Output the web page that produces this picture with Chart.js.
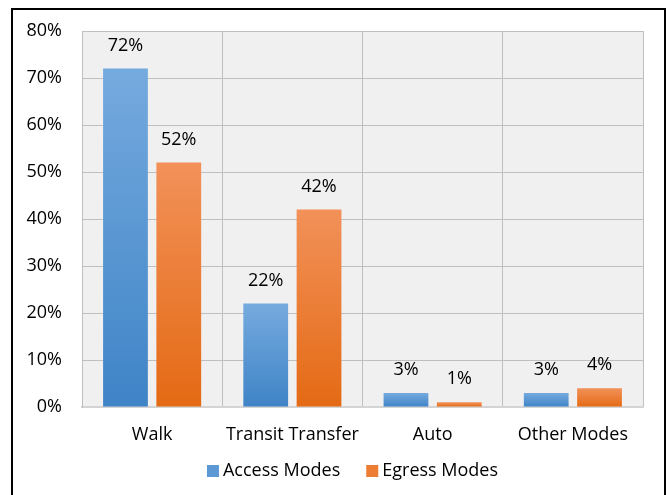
<!DOCTYPE html>
<html>
<head>
<meta charset="utf-8">
<script src="https://cdn.jsdelivr.net/npm/chart.js@4/dist/chart.umd.min.js"></script>
<style>
  html, body { margin: 0; padding: 0; background: #fff; }
  body { width: 671px; height: 495px; position: relative; overflow: hidden; }
  .frame {
    position: absolute; left: 11px; top: 8px;
    width: 651px; height: 500px;
    border: 2px solid #000;
  }
  #modeChart { position: absolute; left: 0; top: 0; }
</style>
</head>
<body>
<div class="frame"></div>
<canvas id="modeChart" width="671" height="495"></canvas>
<script>
const categories = ['Walk', 'Transit Transfer', 'Auto', 'Other Modes'];
const accessModes = [72, 22, 3, 3];
const egressModes = [52, 42, 1, 4];
const yTicks = [0, 10, 20, 30, 40, 50, 60, 70, 80];

const FONT = '"Open Sans", Lato, sans-serif';
const TEXT = '#000';
const SWATCH = ['#5b98d4', '#ec7d32'];

// vertical gradient per bar, lighter at the top
function barGradient(top, bottom) {
    return (ctx) => {
        if (ctx.type !== 'data') return bottom;
        const chart = ctx.chart;
        const y = chart.scales.y;
        if (!y) return bottom;
        const yTop = y.getPixelForValue(ctx.parsed.y);
        const yBase = y.getPixelForValue(0);
        if (!isFinite(yTop) || !isFinite(yBase) || yTop === yBase) return bottom;
        const g = chart.ctx.createLinearGradient(0, yTop, 0, yBase);
        g.addColorStop(0, top);
        g.addColorStop(1, bottom);
        return g;
    };
}

const plotBackground = {
    id: 'plotBackground',
    beforeDraw(chart) {
        const { ctx, chartArea: a } = chart;
        ctx.save();
        ctx.fillStyle = '#f0f0f0';
        ctx.fillRect(a.left, a.top, a.right - a.left, a.bottom - a.top);
        ctx.restore();
    }
};

const valueLabels = {
    id: 'valueLabels',
    afterDatasetsDraw(chart) {
        const { ctx } = chart;
        ctx.save();
        ctx.font = '18px ' + FONT;
        ctx.fillStyle = TEXT;
        ctx.textAlign = 'center';
        ctx.textBaseline = 'middle';
        chart.data.datasets.forEach((ds, i) => {
            chart.getDatasetMeta(i).data.forEach((bar, j) => {
                ctx.fillText(ds.data[j] + '%', bar.x, bar.y - 23);
            });
        });
        ctx.restore();
    }
};

// compact legend under the axis: small square, tight gap to the text
const bottomLegend = {
    id: 'bottomLegend',
    afterDraw(chart) {
        const { ctx, chartArea: a } = chart;
        const box = 12, gap = 4, itemGap = 26;
        ctx.save();
        ctx.font = '18px ' + FONT;
        ctx.textBaseline = 'middle';
        const items = chart.data.datasets.map((ds, i) => ({ text: ds.label, color: SWATCH[i], w: ctx.measureText(ds.label).width }));
        const total = items.reduce((s, it) => s + box + gap + it.w, 0) + itemGap * (items.length - 1);
        let x = (a.left + a.right) / 2 - 10 - total / 2;
        const y = a.bottom + 64;
        items.forEach(it => {
            ctx.fillStyle = it.color;
            ctx.fillRect(x, y - box / 2, box, box);
            ctx.fillStyle = TEXT;
            ctx.fillText(it.text, x + box + gap, y);
            x += box + gap + it.w + itemGap;
        });
        ctx.restore();
    }
};

new Chart(document.getElementById('modeChart'), {
    type: 'bar',
    data: {
        labels: categories,
        datasets: [
            {
                label: 'Access Modes',
                data: accessModes,
                backgroundColor: barGradient('#75aade', '#3f84c7'),
                borderWidth: 0
            },
            {
                label: 'Egress Modes',
                data: egressModes,
                backgroundColor: barGradient('#f29159', '#e46a14'),
                borderWidth: 0
            }
        ]
    },
    options: {
        responsive: false,
        animation: false,
        categoryPercentage: 0.76,
        barPercentage: 0.84,
        layout: { padding: { left: 22, top: 31, right: 28, bottom: 48 } },
        plugins: {
            legend: { display: false },
            tooltip: { enabled: false }
        },
        scales: {
            x: {
                afterFit: (s) => { s.height = 40; },
                grid: { color: '#bfbfbf', lineWidth: 1, drawTicks: false },
                border: { color: '#d4d4d4', width: 2 },
                ticks: { font: { family: FONT, size: 18 }, color: TEXT, padding: 17 }
            },
            y: {
                min: 0,
                max: 80,
                afterFit: (s) => { s.width = 60; },
                afterBuildTicks: (s) => { s.ticks = yTicks.map(v => ({ value: v })); },
                grid: { color: '#bfbfbf', lineWidth: 1, drawTicks: false },
                border: { color: '#bfbfbf', width: 1 },
                ticks: {
                    font: { family: FONT, size: 18 },
                    color: TEXT,
                    padding: 20,
                    callback: (v) => v + '%'
                }
            }
        }
    },
    plugins: [plotBackground, valueLabels, bottomLegend]
});
</script>
</body>
</html>
